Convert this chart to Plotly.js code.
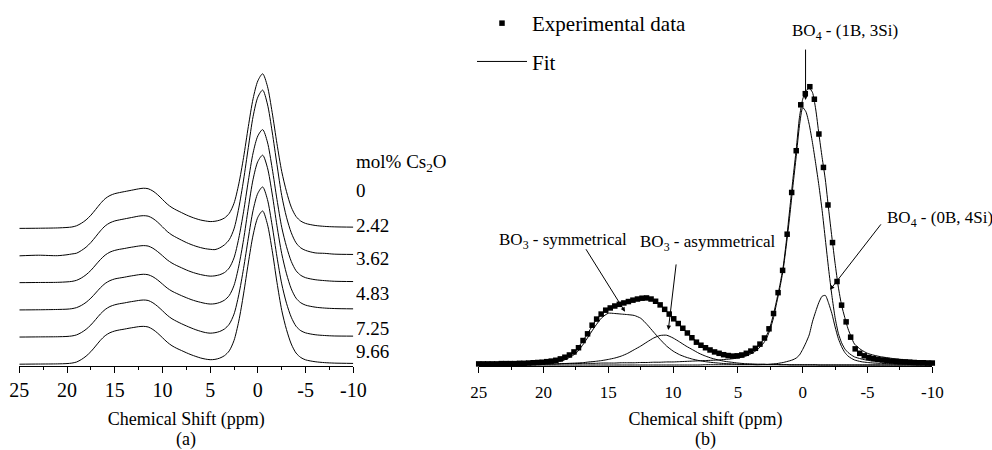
<!DOCTYPE html>
<html>
<head>
<meta charset="utf-8">
<script src="https://cdn.plot.ly/plotly-3.0.1.min.js"></script>
<style>
  html, body { margin: 0; padding: 0; background: #fff; }
  #chart { width: 992px; height: 450px; }
</style>
</head>
<body>
<div id="chart"></div>
<script>
// ---------------- DATA ----------------
// Panel (a): 11B NMR spectra, chemical shift (ppm)
const aShift = [25, 23, 21, 20, 19.5, 19, 18.5, 18, 17.5, 17, 16.5, 16, 15.5, 15, 14.5, 14, 13.5, 13, 12.5, 12,
  11.5, 11, 10.5, 10, 9.5, 9, 8.5, 8, 7.5, 7, 6.5, 6, 5.5, 5, 4.5, 4, 3.5, 3, 2.5, 2,
  1.5, 1, 0.5, 0, -0.5, -1, -1.5, -2, -2.5, -3, -3.5, -4, -4.5, -5, -6, -7, -8, -10];

// mol% Cs2O labels (top to bottom)
const molLabels = ['0', '2.42', '3.62', '4.83', '7.25', '9.66'];

const spec_0 = [0.003, 0.004, 0.006, 0.009, 0.012, 0.02, 0.036, 0.058, 0.088, 0.125, 0.163, 0.195, 0.215, 0.227, 0.234, 0.24, 0.246, 0.252, 0.258, 0.262,
  0.259, 0.244, 0.22, 0.19, 0.16, 0.137, 0.12, 0.105, 0.09, 0.077, 0.066, 0.057, 0.051, 0.047, 0.049, 0.056, 0.07, 0.1, 0.165, 0.29,
  0.46, 0.66, 0.84, 0.955, 1.0, 0.92, 0.75, 0.55, 0.37, 0.24, 0.14, 0.08, 0.05, 0.035, 0.022, 0.016, 0.013, 0.011];
const spec_242 = [0.001, 0.005, 0.002, 0.008, 0.013, 0.018, 0.035, 0.057, 0.087, 0.124, 0.162, 0.194, 0.214, 0.226, 0.233, 0.239, 0.245, 0.251, 0.257, 0.26,
  0.257, 0.242, 0.218, 0.188, 0.158, 0.135, 0.118, 0.102, 0.087, 0.074, 0.063, 0.054, 0.047, 0.043, 0.041, 0.052, 0.072, 0.105, 0.175, 0.31,
  0.49, 0.7, 0.9, 1.025, 1.07, 0.98, 0.8, 0.59, 0.39, 0.25, 0.15, 0.085, 0.052, 0.036, 0.02, 0.017, 0.012, 0.01];
const spec_362 = [0.003, 0.004, 0.005, 0.008, 0.011, 0.018, 0.033, 0.054, 0.082, 0.117, 0.152, 0.181, 0.2, 0.211, 0.218, 0.223, 0.229, 0.234, 0.239, 0.242,
  0.239, 0.225, 0.203, 0.177, 0.15, 0.129, 0.113, 0.099, 0.085, 0.073, 0.063, 0.055, 0.049, 0.045, 0.047, 0.054, 0.068, 0.098, 0.163, 0.29,
  0.46, 0.66, 0.84, 0.95, 0.99, 0.91, 0.74, 0.54, 0.36, 0.235, 0.14, 0.08, 0.05, 0.035, 0.022, 0.016, 0.012, 0.01];
const spec_483 = [0.002, 0.003, 0.005, 0.007, 0.01, 0.017, 0.031, 0.051, 0.078, 0.111, 0.145, 0.173, 0.191, 0.202, 0.208, 0.213, 0.219, 0.224, 0.229, 0.232,
  0.229, 0.216, 0.195, 0.169, 0.143, 0.123, 0.108, 0.094, 0.081, 0.069, 0.059, 0.051, 0.044, 0.04, 0.042, 0.05, 0.065, 0.095, 0.16, 0.285,
  0.455, 0.66, 0.845, 0.96, 1.0, 0.92, 0.75, 0.545, 0.365, 0.235, 0.138, 0.078, 0.048, 0.033, 0.02, 0.014, 0.011, 0.009];
const spec_725 = [0.002, 0.003, 0.004, 0.006, 0.009, 0.016, 0.031, 0.052, 0.08, 0.115, 0.151, 0.18, 0.199, 0.21, 0.217, 0.222, 0.228, 0.233, 0.238, 0.241,
  0.238, 0.223, 0.2, 0.172, 0.143, 0.12, 0.103, 0.088, 0.074, 0.061, 0.049, 0.039, 0.031, 0.027, 0.03, 0.038, 0.054, 0.085, 0.15, 0.275,
  0.445, 0.64, 0.82, 0.93, 0.97, 0.89, 0.72, 0.52, 0.345, 0.22, 0.13, 0.072, 0.043, 0.029, 0.017, 0.012, 0.009, 0.008];
const spec_966 = [0.002, 0.003, 0.004, 0.006, 0.009, 0.016, 0.032, 0.054, 0.083, 0.119, 0.156, 0.186, 0.205, 0.216, 0.223, 0.228, 0.234, 0.239, 0.244, 0.246,
  0.242, 0.226, 0.202, 0.173, 0.144, 0.121, 0.104, 0.09, 0.076, 0.063, 0.052, 0.042, 0.035, 0.031, 0.033, 0.041, 0.057, 0.088, 0.155, 0.28,
  0.455, 0.655, 0.835, 0.95, 0.99, 0.905, 0.735, 0.53, 0.35, 0.225, 0.132, 0.074, 0.045, 0.03, 0.018, 0.012, 0.009, 0.007];

// Panel (b): experimental data points
const expShift = [25, 24.65, 24.3, 23.95, 23.6, 23.25, 22.9, 22.55, 22.2, 21.85,
  21.5, 21.15, 20.8, 20.45, 20.1, 19.75, 19.4, 19.05, 18.7, 18.35,
  18, 17.65, 17.3, 16.95, 16.6, 16.25, 15.9, 15.55, 15.2, 14.85,
  14.5, 14.15, 13.8, 13.45, 13.1, 12.75, 12.4, 12.05, 11.7, 11.35,
  11, 10.65, 10.3, 9.95, 9.6, 9.25, 8.9, 8.55, 8.2, 7.85,
  7.5, 7.15, 6.8, 6.45, 6.1, 5.75, 5.4, 5.05, 4.7, 4.35,
  4, 3.65, 3.3, 2.95, 2.6, 2.25, 1.9, 1.55, 1.2, 0.85,
  0.5, 0.15, -0.2, -0.55, -0.9, -1.25, -1.6, -1.95, -2.3, -2.65,
  -3, -3.35, -3.7, -4.05, -4.4, -4.75, -5.1, -5.45, -5.8, -6.15,
  -6.5, -6.85, -7.2, -7.55, -7.9, -8.25, -8.6, -8.95, -9.3, -9.65, -10];
const expIntensity = [0.004, 0.004, 0.004, 0.004, 0.004, 0.005, 0.005, 0.005, 0.005, 0.006,
  0.006, 0.007, 0.008, 0.009, 0.010, 0.012, 0.014, 0.017, 0.022, 0.028,
  0.036, 0.047, 0.062, 0.088, 0.112, 0.143, 0.165, 0.183, 0.197, 0.205,
  0.212, 0.218, 0.223, 0.228, 0.233, 0.237, 0.24, 0.241, 0.237, 0.229,
  0.216, 0.2, 0.183, 0.166, 0.149, 0.132, 0.115, 0.098, 0.082, 0.071,
  0.062, 0.054, 0.047, 0.042, 0.037, 0.034, 0.032, 0.033, 0.036, 0.042,
  0.05, 0.06, 0.075, 0.097, 0.13, 0.185, 0.26, 0.34, 0.47, 0.62,
  0.77, 0.935, 0.975, 1.0, 0.955, 0.83, 0.71, 0.575, 0.44, 0.3,
  0.215, 0.155, 0.1, 0.058, 0.042, 0.033, 0.027, 0.023, 0.02, 0.018,
  0.016, 0.014, 0.013, 0.012, 0.011, 0.01, 0.009, 0.008, 0.008, 0.007, 0.007];

// Panel (b): fit curves
const fitShift = [25, 23, 21, 20, 19.5, 19, 18.5, 18, 17.5, 17,
  16.5, 16, 15.5, 15, 14.5, 14, 13.5, 13, 12.5, 12,
  11.5, 11, 10.5, 10, 9.5, 9, 8.5, 8, 7.5, 7,
  6.5, 6, 5.5, 5, 4.5, 4, 3.5, 3, 2.75, 2.5,
  2.25, 2, 1.75, 1.5, 1.25, 1, 0.75, 0.5, 0.25, 0,
  -0.25, -0.5, -0.75, -1, -1.25, -1.5, -1.75, -2, -2.25, -2.5,
  -2.75, -3, -3.25, -3.5, -3.75, -4, -4.5, -5, -5.5, -6,
  -7, -8, -9, -10];
const fitTotal = [0.004, 0.005, 0.007, 0.009, 0.012, 0.016, 0.024, 0.036, 0.053, 0.084,
  0.12, 0.158, 0.185, 0.201, 0.211, 0.219, 0.227, 0.234, 0.239, 0.24,
  0.233, 0.216, 0.193, 0.168, 0.144, 0.12, 0.097, 0.079, 0.064, 0.052,
  0.043, 0.037, 0.033, 0.033, 0.038, 0.05, 0.066, 0.092, 0.11, 0.14,
  0.183, 0.235, 0.29, 0.355, 0.45, 0.56, 0.67, 0.775, 0.89, 0.955,
  0.985, 0.995, 0.98, 0.92, 0.83, 0.745, 0.665, 0.56, 0.46, 0.365,
  0.28, 0.215, 0.17, 0.13, 0.1, 0.075, 0.055, 0.042, 0.035, 0.03,
  0.023, 0.018, 0.015, 0.013];
const fitBO3sym = [0, 0.001, 0.003, 0.005, 0.007, 0.01, 0.016, 0.027, 0.042, 0.07,
  0.105, 0.14, 0.17, 0.186, 0.185, 0.183, 0.181, 0.178, 0.168, 0.145,
  0.118, 0.092, 0.068, 0.05, 0.037, 0.028, 0.021, 0.016, 0.012, 0.009,
  0.007, 0.005, 0.004, 0.003, 0.002, 0.002, 0.001, 0.001, 0.001, 0.001,
  0.001, 0.001, 0.001, 0.001, 0.001, 0, 0, 0, 0, 0,
  0, 0, 0, 0, 0, 0, 0, 0, 0, 0,
  0, 0, 0, 0, 0, 0, 0, 0, 0, 0,
  0, 0, 0, 0];
const fitBO3asym = [0, 0.001, 0.002, 0.003, 0.003, 0.004, 0.005, 0.006, 0.007, 0.008,
  0.011, 0.013, 0.016, 0.02, 0.025, 0.032, 0.042, 0.055, 0.068, 0.083,
  0.097, 0.106, 0.107, 0.097, 0.083, 0.068, 0.055, 0.042, 0.032, 0.024,
  0.018, 0.013, 0.01, 0.007, 0.005, 0.004, 0.003, 0.003, 0.002, 0.002,
  0.002, 0.002, 0.001, 0.001, 0.001, 0.001, 0.001, 0.001, 0.001, 0.001,
  0.001, 0.001, 0.001, 0.001, 0, 0, 0, 0, 0, 0,
  0, 0, 0, 0, 0, 0, 0, 0, 0, 0,
  0, 0, 0, 0];
const fitBO4_1B3Si = [0.002, 0.003, 0.003, 0.004, 0.004, 0.004, 0.005, 0.005, 0.005, 0.006,
  0.006, 0.006, 0.007, 0.007, 0.007, 0.008, 0.008, 0.008, 0.009, 0.009,
  0.01, 0.01, 0.011, 0.011, 0.012, 0.013, 0.014, 0.015, 0.016, 0.017,
  0.018, 0.02, 0.022, 0.025, 0.03, 0.04, 0.055, 0.08, 0.1, 0.13,
  0.17, 0.225, 0.28, 0.345, 0.435, 0.535, 0.645, 0.75, 0.86, 0.925,
  0.91, 0.865, 0.8, 0.725, 0.645, 0.555, 0.45, 0.345, 0.25, 0.17,
  0.114, 0.08, 0.058, 0.045, 0.036, 0.029, 0.022, 0.017, 0.014, 0.012,
  0.009, 0.007, 0.006, 0.005];
const fitBO4_0B4Si = [0, 0, 0, 0, 0, 0, 0, 0, 0, 0,
  0, 0, 0, 0, 0, 0, 0, 0, 0, 0,
  0, 0, 0, 0, 0, 0, 0, 0, 0.001, 0.001,
  0.001, 0.001, 0.001, 0.001, 0.001, 0.001, 0.001, 0.002, 0.002, 0.003,
  0.004, 0.005, 0.007, 0.009, 0.012, 0.015, 0.019, 0.025, 0.036, 0.056,
  0.08, 0.108, 0.155, 0.192, 0.225, 0.247, 0.25, 0.222, 0.185, 0.137,
  0.095, 0.066, 0.045, 0.032, 0.024, 0.018, 0.012, 0.009, 0.007, 0.006,
  0.004, 0.003, 0.002, 0.002];

// Axis ticks
const tickVals = [25, 20, 15, 10, 5, 0, -5, -10];
const tickText = ['25', '20', '15', '10', '5', '0', '-5', '-10'];
const minorTickVals = [22.5, 17.5, 12.5, 7.5, 2.5, -2.5, -7.5];

// ---------------- LAYOUT HELPERS ----------------
const W = 992, H = 450;
const px = v => v / W;
const py = v => 1 - v / H;
const FONT = 'Liberation Serif';

const spectra = [spec_0, spec_242, spec_362, spec_483, spec_725, spec_966];
const stackStep = 0.175;

const traces = [];
spectra.forEach((s, i) => {
  const off = (spectra.length - 1 - i) * stackStep;
  traces.push({
    x: aShift, y: s.map(v => v + off), xaxis: 'x', yaxis: 'y',
    type: 'scatter', mode: 'lines', showlegend: false, name: molLabels[i] + ' mol% Cs2O',
    line: {color: '#000', width: 1, shape: 'spline', smoothing: 0.8}
  });
});

const compStyle = {color: '#000', width: 1, shape: 'spline', smoothing: 0.6};
[[fitBO3sym, 'BO3 - symmetrical'], [fitBO3asym, 'BO3 - asymmetrical'],
 [fitBO4_1B3Si, 'BO4 - (1B, 3Si)'], [fitBO4_0B4Si, 'BO4 - (0B, 4Si)']].forEach(([arr, nm]) => {
  traces.push({x: fitShift, y: arr, xaxis: 'x2', yaxis: 'y2', type: 'scatter', mode: 'lines',
    name: nm, showlegend: false, line: compStyle});
});
traces.push({x: expShift, y: expIntensity, xaxis: 'x2', yaxis: 'y2', type: 'scatter', mode: 'markers',
  name: 'Experimental data', legendgroup: 'g1', cliponaxis: false,
  marker: {symbol: 'square', size: 5.5, color: '#000'}});
traces.push({x: fitShift, y: fitTotal, xaxis: 'x2', yaxis: 'y2', type: 'scatter', mode: 'lines',
  name: 'Fit', legendgroup: 'g2', line: compStyle});

function xAxis(domain, anchor, title, tickSize, standoff) {
  return {
    domain: domain, anchor: anchor, range: [25, -10], autorange: false,
    tickmode: 'array', tickvals: tickVals, ticktext: tickText,
    ticks: 'outside', ticklen: 6, tickwidth: 1, tickcolor: '#000',
    showline: true, linecolor: '#000', linewidth: 1, mirror: false,
    showgrid: false, zeroline: false,
    tickfont: {family: FONT, size: tickSize, color: '#000'},
    minor: {tickmode: 'array', tickvals: minorTickVals, ticks: 'outside', ticklen: 3, tickwidth: 1, tickcolor: '#000', showgrid: false},
    title: {text: title, font: {family: FONT, size: 18, color: '#000'}, standoff: standoff},
    automargin: false, fixedrange: true
  };
}

const yDom = [py(366), py(3)];
const layout = {
  width: W, height: H,
  margin: {l: 0, r: 0, t: 0, b: 0, pad: 0},
  paper_bgcolor: '#fff', plot_bgcolor: '#fff',
  font: {family: FONT, color: '#000'},
  showlegend: true,
  legend: {x: px(472), y: py(3), xanchor: 'left', yanchor: 'top',
    font: {family: FONT, size: 21, color: '#000'}, bgcolor: 'rgba(0,0,0,0)',
    itemwidth: 50, tracegroupgap: 8, traceorder: 'grouped'},
  xaxis: xAxis([px(19.3), px(353.3)], 'y', 'Chemical Shift (ppm)', 20, 12),
  yaxis: {domain: yDom, range: [-0.0097, 2.332], visible: false, fixedrange: true, anchor: 'x'},
  xaxis2: xAxis([px(478.7), px(932.3)], 'y2', 'Chemical shift (ppm)', 17, 10),
  yaxis2: {domain: yDom, range: [-0.0036, 1.3008], visible: false, fixedrange: true, anchor: 'x2'},
  annotations: []
};
layout.xaxis2.ticklabelstandoff = 5;

const ann = layout.annotations;
const txt = (t, x, y, size, xa) => ann.push({text: t, x: x, y: y, xref: 'paper', yref: 'paper',
  xanchor: xa || 'left', yanchor: 'middle', showarrow: false, font: {family: FONT, size: size, color: '#000'}});

// panel (a) labels
txt('mol% Cs<sub>2</sub>O', px(354), py(163), 19);
const labelY = [190, 225, 258, 293, 328, 351];
molLabels.forEach((l, i) => txt(l, px(354), py(labelY[i]), 19));
txt('(a)', px(186.3), py(439), 18, 'center');
txt('(b)', px(705.5), py(439), 18, 'center');

// panel (b) labels
txt('BO<sub>4</sub> - (1B, 3Si)', px(790), py(32), 17);
txt('BO<sub>3</sub> - symmetrical', px(497), py(241), 17);
txt('BO<sub>3</sub> - asymmetrical', px(638), py(243), 17);
txt('BO<sub>4</sub> - (0B, 4Si)', px(885), py(219), 17);

// arrows
const arrow = (x, y, ax, ay) => ann.push({text: '', x: x, y: y, xref: 'x2', yref: 'y2', ax: ax, ay: ay,
  showarrow: true, arrowhead: 2, arrowsize: 0.9, arrowwidth: 1, arrowcolor: '#000', standoff: 0, startstandoff: 0});
arrow(-0.22, 0.952, 0, -52);
arrow(13.71, 0.1915, -40, -64);
arrow(10.37, 0.126, 8, -67);
arrow(-2.11, 0.27, 52, -67);

Plotly.newPlot('chart', traces, layout, {staticPlot: true, displayModeBar: false});
</script>
</body>
</html>
